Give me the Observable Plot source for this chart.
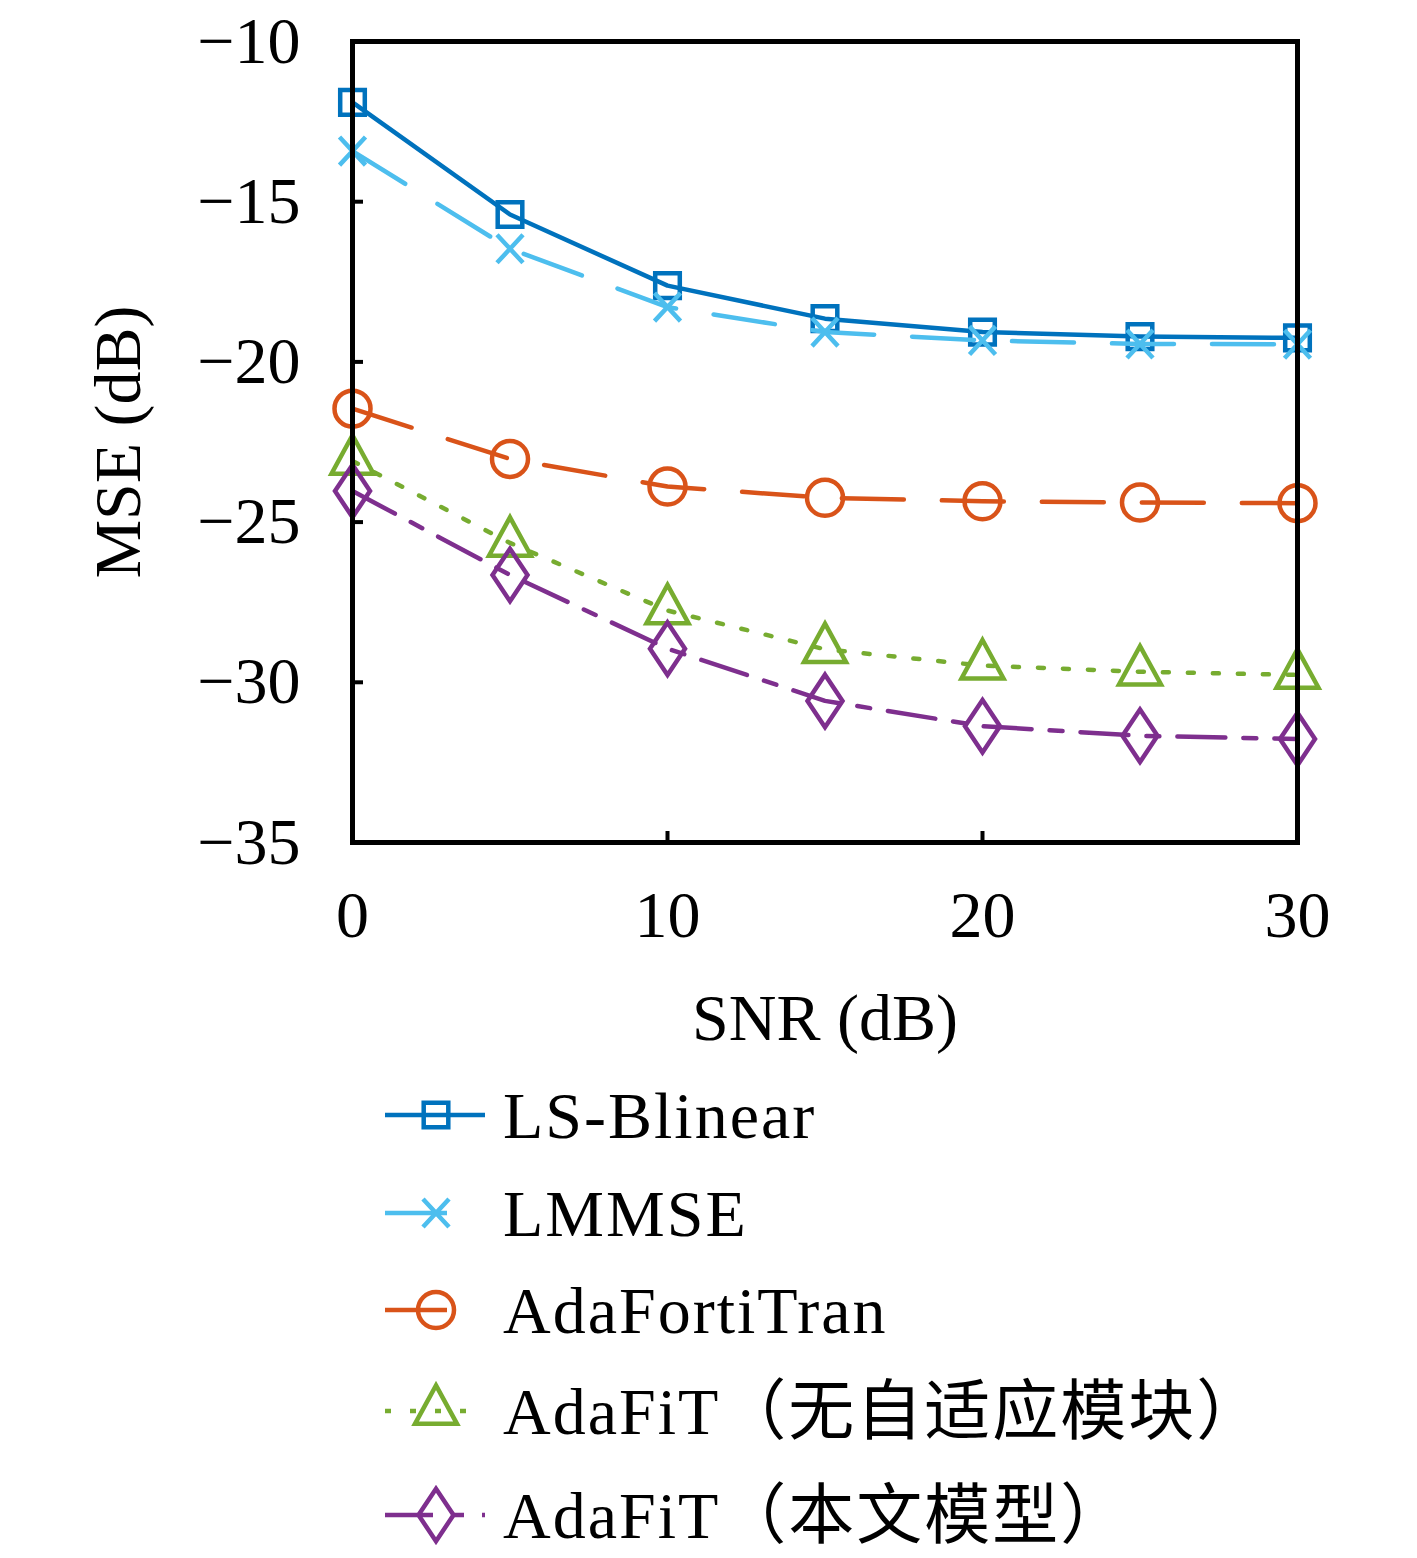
<!DOCTYPE html>
<html>
<head>
<meta charset="utf-8">
<script src="https://cdn.jsdelivr.net/npm/d3@7"></script>
<script src="https://cdn.jsdelivr.net/npm/@observablehq/plot@0.6"></script>
<style>
  html, body { margin: 0; padding: 0; background: #fff; }
  #chart svg, #legend svg { display: block; }
</style>
</head>
<body>
<div id="chart"></div>
<div id="legend"></div>
<script>
// ---- data ----
const snr = [0, 5, 10, 15, 20, 25, 30];
const seriesNames = ["LS-Blinear", "LMMSE", "AdaFortiTran", "AdaFiT（无自适应模块）", "AdaFiT（本文模型）"];
const lsBlinear    = [-11.90, -15.40, -17.62, -18.65, -19.07, -19.21, -19.25];
const lmmse        = [-13.42, -16.47, -18.29, -19.07, -19.33, -19.44, -19.45];
const adaFortiTran = [-21.46, -23.03, -23.89, -24.24, -24.35, -24.39, -24.41];
const adaFitNoAdapt= [-23.09, -25.65, -27.76, -28.97, -29.48, -29.67, -29.77];
const adaFitOurs   = [-24.03, -26.65, -28.95, -30.58, -31.37, -31.67, -31.77];
const xTicks = [0, 10, 20, 30];
const yTicks = [-35, -30, -25, -20, -15, -10];
const xLabel = "SNR (dB)";
const yLabel = "MSE (dB)";

// ---- styles ----
const colors = ["#0072BD", "#4DBEEE", "#D95319", "#77AC30", "#7E2F8E"];
const dashes = [null, "62,38", "62,38", "6,19", "48,18,13,18"];
const radii = [12.3, 13, 18, 21, 17.5];
const rad = (size) => Math.sqrt(size / Math.PI);
const symbols = [
  {draw(c, size) { const s = rad(size); c.rect(-s, -s, 2 * s, 2 * s); }},
  {draw(c, size) { const s = rad(size); c.moveTo(-s, -s * 1.08); c.lineTo(s, s * 1.08); c.moveTo(s, -s * 1.08); c.lineTo(-s, s * 1.08); }},
  {draw(c, size) { const s = rad(size); c.moveTo(s, 0); c.arc(0, 0, s, 0, 2 * Math.PI); c.closePath(); }},
  {draw(c, size) { const s = rad(size); c.moveTo(0, -s * 1.22); c.lineTo(s, s * 0.61); c.lineTo(-s, s * 0.61); c.closePath(); }},
  {draw(c, size) { const s = rad(size); c.moveTo(0, -s * 1.5); c.lineTo(s, 0); c.lineTo(0, s * 1.5); c.lineTo(-s, 0); c.closePath(); }}
];
const allValues = [lsBlinear, lmmse, adaFortiTran, adaFitNoAdapt, adaFitOurs];
const SW = 4.5;
const FONT = '"Liberation Serif", "Noto Sans CJK SC", serif';

const fmtMinus = d => d < 0 ? "\u2212" + Math.abs(d) : String(d);

const marks = [];
allValues.forEach((vals, i) => {
  const rows = snr.map((x, j) => ({x, y: vals[j]}));
  marks.push(Plot.line(rows, {x: "x", y: "y", stroke: colors[i], strokeWidth: SW,
    strokeDasharray: dashes[i] || undefined, strokeLinejoin: "round"}));
  marks.push(Plot.dot(rows, {x: "x", y: "y", symbol: symbols[i], r: radii[i],
    fill: "none", stroke: colors[i], strokeWidth: SW}));
});

// inward ticks
marks.push(Plot.tickY(yTicks, {y: d => d, stroke: "black", strokeWidth: 4, insetRight: 934}));
marks.push(Plot.tickX(xTicks, {x: d => d, stroke: "black", strokeWidth: 4, insetTop: 790}));
marks.push(Plot.frame({stroke: "black", strokeWidth: 5}));
// axis labels
marks.push(Plot.text([xLabel], {frameAnchor: "bottom", text: d => d, dy: 176, lineAnchor: "middle", textAnchor: "middle", fontSize: 66, fill: "black", letterSpacing: 2}));
marks.push(Plot.text([yLabel], {frameAnchor: "left", text: d => d, dx: -234, rotate: -90, lineAnchor: "middle", textAnchor: "middle", fontSize: 66, fill: "black", letterSpacing: 2}));

const chart = Plot.plot({
  width: 1417,
  height: 1060,
  marginLeft: 352,
  marginRight: 120,
  marginTop: 41,
  marginBottom: 218,
  style: {fontFamily: FONT, fontSize: "66px", color: "black", background: "white", overflow: "visible"},
  x: {domain: [0, 30], ticks: xTicks, tickSize: 0, tickPadding: 48, tickFormat: d => String(d), label: null},
  y: {domain: [-35, -10], ticks: yTicks, tickSize: 0, tickPadding: 52, tickFormat: fmtMinus, label: null},
  marks
});
document.getElementById("chart").appendChild(chart);

// ---- legend ----
const legendRows = [55, 153, 250, 351, 455];
const lsvg = d3.select("#legend").append("svg")
  .attr("width", 1417).attr("height", 498)
  .style("font-family", FONT);
seriesNames.forEach((name, i) => {
  const g = lsvg.append("g").attr("transform", `translate(0,${legendRows[i]})`);
  g.append("line").attr("x1", 385).attr("x2", 485).attr("y1", 0).attr("y2", 0)
    .attr("stroke", colors[i]).attr("stroke-width", SW)
    .attr("stroke-dasharray", dashes[i]);
  g.append("path").attr("transform", "translate(436,0)")
    .attr("d", d3.symbol().type(symbols[i]).size(Math.PI * radii[i] * radii[i])())
    .attr("fill", "none").attr("stroke", colors[i]).attr("stroke-width", SW);
  g.append("text").attr("x", 503).attr("y", 23).attr("font-size", 66)
    .attr("letter-spacing", 2)
    .attr("fill", "black").text(name);
});
</script>
</body>
</html>
